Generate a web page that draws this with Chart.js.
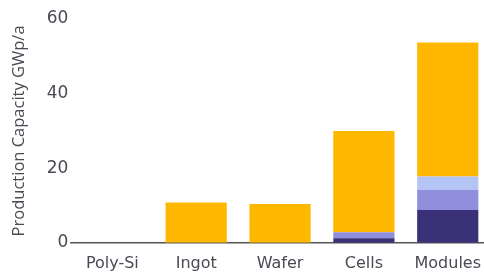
<!DOCTYPE html>
<html>
<head>
<meta charset="utf-8">
<script src="https://cdn.jsdelivr.net/npm/chart.js@4"></script>
<style>
  html, body { margin: 0; padding: 0; background: #fff; overflow: hidden; }
  #wrap { width: 492px; height: 285px; position: relative; }
</style>
</head>
<body>
<div id="wrap"><canvas id="capacity-chart"></canvas></div>
<script>
// Production capacity by value chain step (GWp/a)
const steps = ['Poly-Si', 'Ingot', 'Wafer', 'Cells', 'Modules'];
const darkPart   = [0, 0, 0, 1.2, 8.8];
const midPart    = [0, 0, 0, 1.6, 5.4];
const lightPart  = [0, 0, 0, 0, 3.6];
const orangePart = [0, 10.8, 10.4, 27.2, 35.9];
const yTicks = [0, 20, 40, 60];

const textColor = '#4a4a55';
const ctx = document.getElementById('capacity-chart').getContext('2d');
const capacityChart = new Chart(ctx, {
    type: 'bar',
    data: {
        labels: steps,
        datasets: [
            { data: darkPart, backgroundColor: '#3b3178' },
            { data: midPart, backgroundColor: '#8f8fdc' },
            { data: lightPart, backgroundColor: '#b4c4f4' },
            { data: orangePart, backgroundColor: '#ffb800' }
        ]
    },
    options: {
        responsive: true,
        maintainAspectRatio: false,
        animation: false,
        layout: { padding: { top: 19, left: 9, right: 0, bottom: 1 } },
        plugins: { legend: { display: false }, tooltip: { enabled: false } },
        datasets: { bar: { barPercentage: 0.73, categoryPercentage: 1 } },
        scales: {
            x: {
                stacked: true,
                grid: { display: false, drawTicks: false },
                border: { color: '#555', width: 1.5 },
                ticks: {
                    color: textColor,
                    font: { family: 'DejaVu Sans', size: 16 },
                    padding: 11,
                    maxRotation: 0,
                    minRotation: 0,
                    autoSkip: false
                }
            },
            y: {
                stacked: true,
                min: 0,
                max: 60,
                afterBuildTicks: axis => { axis.ticks = yTicks.map(v => ({ value: v })); },
                grid: { display: false, drawTicks: false },
                border: { display: false },
                ticks: { color: textColor, font: { family: 'DejaVu Sans', size: 17 }, padding: 2 },
                title: {
                    display: true,
                    text: 'Production Capacity GWp/a',
                    color: textColor,
                    font: { family: 'Open Sans', size: 16.5 },
                    padding: { top: 0, bottom: 16 }
                }
            }
        }
    }
});
</script>
</body>
</html>
